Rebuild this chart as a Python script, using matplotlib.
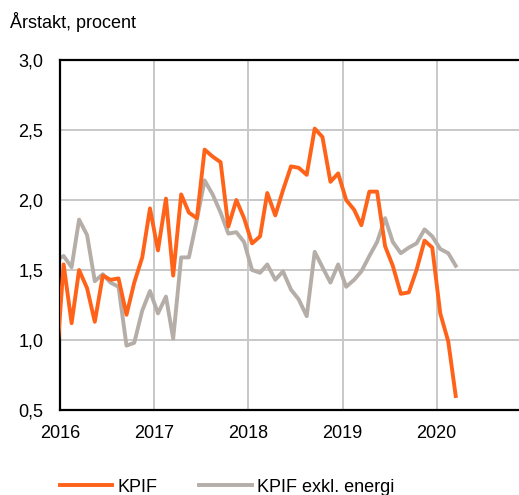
import pandas as pd
import matplotlib.pyplot as plt
import matplotlib.dates as mdates
from matplotlib.ticker import FuncFormatter

plt.rcParams["font.family"] = ["Liberation Sans", "DejaVu Sans"]

# ── Data (annual rate, percent), monthly Dec 2015 - Mar 2020 ──
months = pd.date_range("2015-12-01", "2020-03-01", freq="MS")

kpif = [
    0.75,
    1.54, 1.12, 1.50, 1.37, 1.13, 1.46, 1.43, 1.44, 1.18, 1.41, 1.59, 1.94,
    1.64, 2.01, 1.46, 2.04, 1.91, 1.87, 2.36, 2.31, 2.27, 1.81, 2.00, 1.87,
    1.69, 1.74, 2.05, 1.89, 2.07, 2.24, 2.23, 2.18, 2.51, 2.45, 2.13, 2.19,
    2.00, 1.93, 1.82, 2.06, 2.06, 1.67, 1.53, 1.33, 1.34, 1.50, 1.71, 1.66,
    1.19, 0.99, 0.60,
]
kpif_exkl_energi = [
    1.57,
    1.60, 1.52, 1.86, 1.75, 1.42, 1.47, 1.41, 1.38, 0.96, 0.98, 1.21, 1.35,
    1.19, 1.31, 1.01, 1.59, 1.59, 1.86, 2.14, 2.04, 1.91, 1.76, 1.77, 1.70,
    1.50, 1.48, 1.54, 1.43, 1.49, 1.36, 1.29, 1.17, 1.63, 1.52, 1.41, 1.54,
    1.38, 1.43, 1.49, 1.60, 1.70, 1.87, 1.70, 1.62, 1.66, 1.69, 1.79, 1.74,
    1.65, 1.62, 1.53,
]
series_labels = ["KPIF", "KPIF exkl. energi"]
year_ticks = [2016, 2017, 2018, 2019, 2020]
y_ticks = [0.5, 1.0, 1.5, 2.0, 2.5, 3.0]

ORANGE = "#FF6319"
GREY = "#B5ADA7"

# points sit mid-month
x = months + pd.Timedelta(days=14)

# ── Figure ─────────────────────────────────────────────
W, H = 519, 495
fig = plt.figure(figsize=(W / 100, H / 100), dpi=100)
ax = fig.add_axes([60 / W, 85 / H, 471 / W, 350 / H])

ax.plot(x, kpif, color=ORANGE, lw=2.8, label=series_labels[0], zorder=3)
ax.plot(x, kpif_exkl_energi, color=GREY, lw=2.8, label=series_labels[1], zorder=2)

ax.set_xlim(pd.Timestamp("2016-01-01"), pd.Timestamp("2021-01-01"))
ax.set_ylim(0.5, 3.0)
ax.set_xticks([pd.Timestamp(f"{y}-01-01") for y in year_ticks])
ax.xaxis.set_major_formatter(mdates.DateFormatter("%Y"))
ax.set_yticks(y_ticks)
ax.yaxis.set_major_formatter(FuncFormatter(lambda v, p: f"{v:.1f}".replace(".", ",")))

ax.grid(True, color="#C8C8C8", lw=1.4)
ax.set_axisbelow(True)
for side in ["left", "bottom", "top"]:
    ax.spines[side].set_color("black")
    ax.spines[side].set_linewidth(1.6)
ax.spines["right"].set_visible(False)
ax.tick_params(length=0, labelsize=13, colors="black")
ax.tick_params(axis="x", pad=11)
ax.tick_params(axis="y", pad=12)

fig.text(10 / W, 1 - 28 / H, "Årstakt, procent", fontsize=13, va="baseline")

fig.legend(
    loc="center left",
    bbox_to_anchor=(60 / W, 1 - 487 / H),
    ncol=2,
    frameon=False,
    fontsize=13,
    handlelength=2.9,
    handletextpad=0.3,
    columnspacing=2.3,
    borderpad=0,
    borderaxespad=0,
)

fig.savefig("out.png", dpi=100)
